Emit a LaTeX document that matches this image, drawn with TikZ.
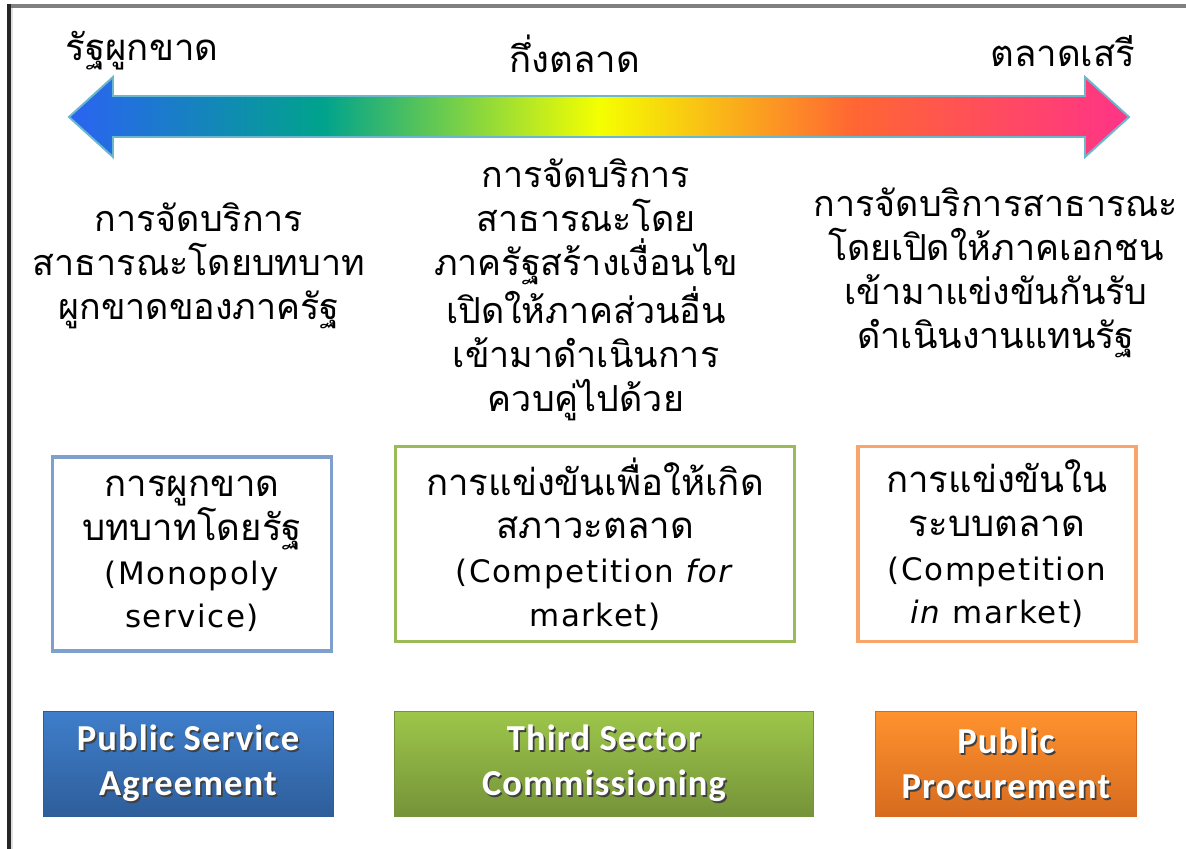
\documentclass[tikz,border=0pt]{standalone}
\usepackage{fontspec}
\setmainfont{DejaVu Sans}
\newfontfamily\thaifont[Script=Thai]{Loma}
\newfontfamily\boxlatin[LetterSpace=5]{DejaVu Sans}
\newfontfamily\basefont[LetterSpace=3]{Carlito}
\usetikzlibrary{positioning}
\definecolor{ArrBlue}{HTML}{2B63F2}
\definecolor{ArrTeal}{HTML}{00A38C}
\definecolor{ArrYellow}{HTML}{F5FF00}
\definecolor{ArrOrange}{HTML}{FF6633}
\definecolor{ArrPink}{HTML}{FF3388}
\definecolor{ArrLine}{HTML}{6BB8CC}
\definecolor{FrameGray}{HTML}{808080}
\definecolor{MonoLine}{HTML}{7FA0CF}
\definecolor{ForLine}{HTML}{9BBB59}
\definecolor{InLine}{HTML}{F9A56A}
\definecolor{PsaTop}{HTML}{3F7ECB}
\definecolor{PsaBot}{HTML}{2E5E9A}
\definecolor{TscTop}{HTML}{9DC64A}
\definecolor{TscBot}{HTML}{759339}
\definecolor{PpTop}{HTML}{FF922E}
\definecolor{PpBot}{HTML}{D66B1F}
\pgfdeclarehorizontalshading{spectrum}{100bp}{color(0bp)=(ArrBlue); color(25bp)=(ArrBlue); color(37bp)=(ArrTeal); color(50bp)=(ArrYellow); color(62bp)=(ArrOrange); color(75bp)=(ArrPink); color(100bp)=(ArrPink)}
\newcommand{\px}{0.025cm}
\newcommand{\eng}[1]{{\boxlatin\fontsize{22}{31}\selectfont #1}}
\newcommand{\shadowed}[1]{\makebox[0pt][l]{\hspace{1.2pt}\raisebox{-1.2pt}{\color{black!75}#1}}#1}

\begin{document}
\begin{tikzpicture}[
    x=\px, y=-\px,
    colhead/.style={font=\thaifont\fontsize{26}{31}\selectfont},
    coltext/.style={align=center, font=\thaifont\fontsize{25.5}{31.3}\selectfont},
    midbox/.style={draw, line width=2.2pt, fill=white, align=center, minimum height=195*\px, font=\thaifont\fontsize{26}{31}\selectfont},
    basebox/.style={minimum height=105*\px, align=center, text=white, font=\basefont\bfseries\fontsize{26}{32}\selectfont}
]
\useasboundingbox (0,0) rectangle (1186,849);

% frame
\draw[FrameGray, line width=3.5pt] (7,6) -- (1186,6);
\draw[black!85, line width=3pt] (9,4) -- (9,849);
\draw[black!12, line width=1.5pt] (12,8) -- (12,849);

% scale arrow
\shade[shading=spectrum, draw=ArrLine, line width=1.4pt]
    (69,117) -- (113,77) -- (113,96) -- (1085,96) -- (1085,77) -- (1129,117)
    -- (1085,157) -- (1085,137) -- (113,137) -- (113,157) -- cycle;

\node[colhead] (state) at (142,51) {รัฐผูกขาด};
\node[colhead] (semi) at (575,54) {กึ่งตลาด};
\node[colhead] (free) at (1063,51) {ตลาดเสรี};

% descriptions
\node[coltext] (stateTxt) at (199,266) {การจัดบริการ\\สาธารณะโดยบทบาท\\ผูกขาดของภาครัฐ};
\node[coltext] (semiTxt) at (586,290) {การจัดบริการ\\สาธารณะโดย\\ภาครัฐสร้างเงื่อนไข\\เปิดให้ภาคส่วนอื่น\\เข้ามาดำเนินการ\\ควบคู่ไปด้วย};
\node[coltext] (freeTxt) at (996,273) {การจัดบริการสาธารณะ\\โดยเปิดให้ภาคเอกชน\\เข้ามาแข่งขันกันรับ\\ดำเนินงานแทนรัฐ};

% competition types
\node[midbox, draw=MonoLine, minimum width=279*\px, minimum height=194*\px] (mono) at (192,554)
    {การผูกขาด\\บทบาทโดยรัฐ\\\eng{(Monopoly}\\\eng{service)}};
\node[midbox, draw=ForLine, minimum width=399*\px] (forMkt) at (595,544)
    {การแข่งขันเพื่อให้เกิด\\สภาวะตลาด\\\eng{(Competition \textit{for}}\\\eng{market)}};
\node[midbox, draw=InLine, minimum width=278*\px] (inMkt) at (997,544)
    {การแข่งขันใน\\ระบบตลาด\\\eng{(Competition}\\\eng{\textit{in} market)}};

% instruments
\node[basebox, top color=PsaTop, bottom color=PsaBot, draw=PsaBot, minimum width=290*\px] (psa) at (188,764)
    {\shadowed{Public Service}\\\shadowed{Agreement}};
\node[basebox, top color=TscTop, bottom color=TscBot, draw=TscBot, minimum width=419*\px] (tsc) at (604,764)
    {\shadowed{Third Sector}\\\shadowed{Commissioning}};
\node[basebox, top color=PpTop, bottom color=PpBot, draw=PpBot, minimum width=261*\px] (pp) at (1006,764)
    {\shadowed{Public}\\\shadowed{Procurement}};

\end{tikzpicture}
\end{document}
